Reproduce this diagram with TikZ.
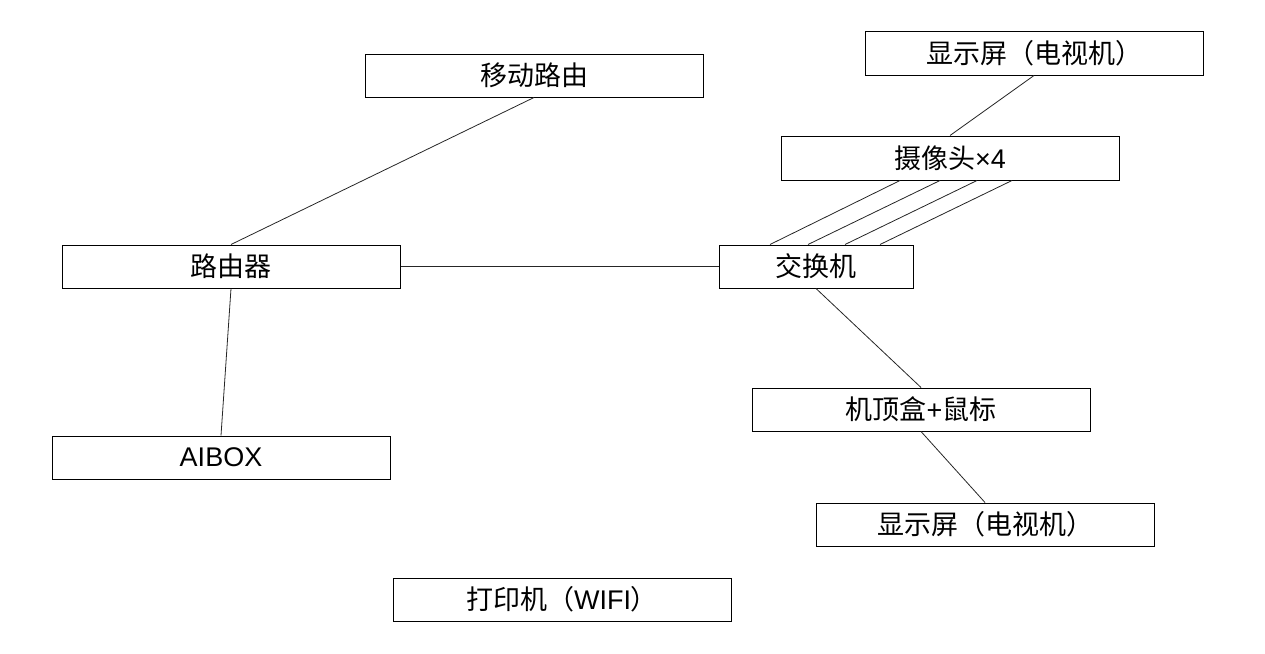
\documentclass[tikz,border=0pt]{standalone}
\usepackage{fontspec}
\setmainfont{Liberation Sans}
\newfontfamily\cjk{Noto Sans CJK SC}
\usetikzlibrary{calc}
\begin{document}
\begin{tikzpicture}[x=1pt,y=-1pt,
  box/.style={draw=black,line width=1pt,fill=white,inner sep=0pt,
    minimum width=338pt,minimum height=43pt,
    font=\fontsize{27}{32}\selectfont},
  link/.style={draw=black!85,line width=0.8pt}]
\useasboundingbox (0,0) rectangle (1265,653);

% devices
\node[box] (mr)  at (534,75.5)  {\cjk 移动路由};
\node[box,minimum height=44pt] (tv1) at (1034,53) {\cjk 显示屏（电视机）};
\node[box,minimum height=44pt] (cam) at (950,158) {{\cjk 摄像头}×4};
\node[box] (rt)  at (231,266.5) {\cjk 路由器};
\node[box,minimum width=194pt] (sw) at (816,266.5) {\cjk 交换机};
\node[box] (stb) at (921,409.5) {{\cjk 机顶盒}+{\cjk 鼠标}};
\node[box] (tv2) at (985,524.5) {\cjk 显示屏（电视机）};
\node[box] (ai)  at (221,457.5) {AIBOX};
\node[box] (pr)  at (562,599.5) {{\cjk 打印机（}WIFI{\cjk ）}};

% connections
\draw[link] (mr.south) -- (rt.north);
\draw[link] (rt.east) -- (sw.west);
\draw[link] (rt.south) -- (ai.north);
\draw[link] (tv1.south) -- (cam.north);
\draw[link] (sw.south) -- (stb.north);
\draw[link] (stb.south) -- (tv2.north);
% four camera cables into the switch
\foreach \a/\b in {-50/-46,-10/-8,27/29,62/64}
  \draw[link] ($(cam.south)+(\a,0)$) -- ($(sw.north)+(\b,0)$);
\end{tikzpicture}
\end{document}
